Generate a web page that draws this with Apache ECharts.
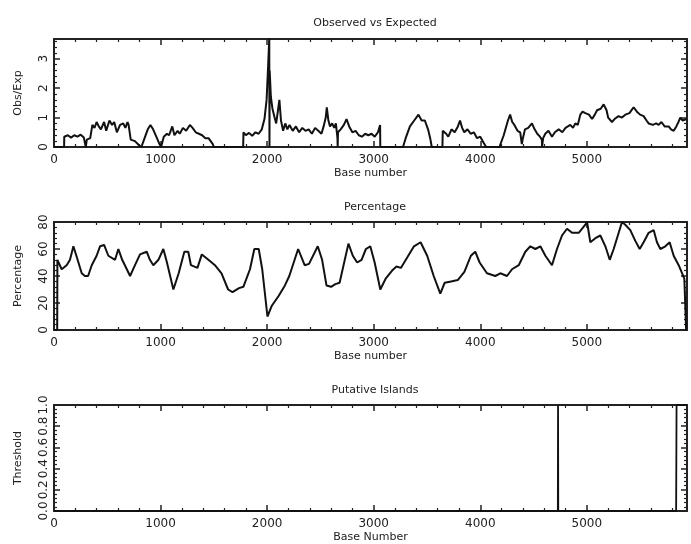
<!DOCTYPE html>
<html>
<head>
<meta charset="utf-8">
<script src="https://cdn.jsdelivr.net/npm/echarts@6/dist/echarts.min.js"></script>
<style>html,body{margin:0;padding:0;background:#fff;}#chart{width:691px;height:544px;}</style>
</head>
<body>
<div id="chart"></div>
<script>
// ---------- DATA ----------
const titles = ["Observed vs Expected", "Percentage", "Putative Islands"];
const xNames = ["Base number", "Base number", "Base Number"];
const yNames = ["Obs/Exp", "Percentage", "Threshold"];
const xTickLabels = ["0", "1000", "2000", "3000", "4000", "5000"];

const obsExpBase = [0,95,96,130,160,190,220,250,280,295,298,305,308,340,360,380,400,420,440,470,490,520,545,565,590,620,650,670,690,700,720,760,800,820,850,880,905,930,960,990,1005,1030,1060,1080,1110,1130,1160,1180,1210,1240,1275,1300,1330,1360,1390,1420,1450,1490,1500,1775,1778,1800,1830,1860,1890,1920,1950,1975,1995,2010,2020,2022,2024,2035,2050,2070,2085,2100,2115,2130,2150,2170,2190,2210,2240,2270,2300,2330,2360,2390,2420,2450,2480,2510,2530,2550,2560,2575,2590,2610,2630,2645,2660,2662,2665,2690,2720,2745,2770,2800,2830,2860,2890,2920,2950,2980,3010,3040,3060,3062,3275,3300,3340,3380,3420,3450,3480,3510,3530,3545,3645,3648,3680,3700,3730,3760,3790,3810,3830,3850,3880,3910,3940,3970,4000,4030,4055,4180,4220,4260,4280,4300,4320,4350,4375,4390,4400,4420,4450,4485,4510,4535,4560,4578,4580,4590,4610,4640,4673,4700,4736,4770,4800,4845,4870,4892,4915,4939,4960,4986,5020,5049,5075,5096,5130,5158,5185,5200,5236,5260,5298,5330,5361,5400,5439,5470,5500,5533,5560,5580,5620,5650,5674,5700,5730,5768,5790,5815,5840,5860,5877,5900,5935];
const obsExpValues = [0,0,0.35,0.4,0.32,0.4,0.35,0.42,0.32,0.3,0,0,0.25,0.3,0.75,0.65,0.85,0.7,0.6,0.85,0.55,0.9,0.75,0.85,0.5,0.75,0.8,0.65,0.85,0.75,0.25,0.2,0.05,0,0.3,0.6,0.75,0.6,0.35,0.1,0,0.35,0.45,0.4,0.7,0.4,0.55,0.45,0.65,0.55,0.75,0.65,0.5,0.45,0.4,0.3,0.3,0.1,0,0,0.5,0.4,0.48,0.38,0.5,0.45,0.6,0.95,1.6,2.8,3.7,0,2.6,1.7,1.3,1.0,0.8,1.2,1.6,0.9,0.55,0.8,0.6,0.75,0.55,0.7,0.5,0.65,0.55,0.6,0.45,0.65,0.55,0.45,0.7,1.0,1.35,0.9,0.7,0.8,0.65,0.8,0.3,0,0.5,0.6,0.75,0.95,0.7,0.5,0.55,0.4,0.35,0.45,0.4,0.45,0.35,0.5,0.75,0,0,0.3,0.7,0.9,1.1,0.9,0.9,0.6,0.3,0,0,0.55,0.45,0.35,0.6,0.5,0.7,0.9,0.65,0.5,0.6,0.45,0.5,0.3,0.35,0.15,0,0,0.4,0.9,1.1,0.85,0.75,0.55,0.5,0.1,0.3,0.6,0.65,0.8,0.6,0.45,0.35,0.25,0,0.3,0.45,0.55,0.35,0.5,0.6,0.5,0.65,0.75,0.65,0.8,0.75,1.1,1.2,1.15,1.1,0.95,1.1,1.25,1.3,1.45,1.25,1.0,0.85,0.95,1.05,1.0,1.1,1.15,1.35,1.2,1.1,1.05,0.9,0.8,0.75,0.8,0.75,0.85,0.7,0.7,0.6,0.55,0.7,0.85,1.0,0.9,0.95];

const pctBase = [0,30,32,72,119,150,182,210,260,290,320,354,400,432,470,510,573,604,640,714,760,807,870,900,932,980,1026,1060,1120,1170,1223,1260,1285,1346,1387,1449,1510,1572,1634,1675,1736,1777,1839,1880,1921,1954,2003,2044,2106,2167,2208,2291,2352,2393,2475,2516,2557,2600,2640,2680,2763,2804,2845,2886,2927,2968,3009,3062,3112,3173,3214,3255,3317,3378,3440,3502,3563,3625,3666,3727,3789,3851,3912,3953,3994,4063,4141,4188,4251,4298,4361,4423,4470,4517,4564,4611,4673,4720,4767,4814,4861,4924,4986,5002,5033,5080,5127,5174,5215,5252,5299,5330,5361,5408,5455,5496,5533,5580,5627,5658,5690,5737,5777,5815,5862,5915,5932,5940];
const pctValues = [0,0,52,45,48,52,62,55,42,40,40,48,55,62,63,55,52,60,52,40,48,56,58,52,48,52,60,50,30,42,58,58,48,46,56,52,48,42,30,28,31,32,45,60,60,45,10,18,25,33,40,60,48,49,62,52,33,32,34,35,64,55,50,52,60,62,50,30,38,44,47,46,54,62,65,55,40,27,35,36,37,43,55,58,50,42,40,42,40,45,48,58,62,60,62,55,48,60,70,75,72,72,78,80,65,68,70,62,52,60,72,80,78,74,66,60,65,72,74,65,60,62,65,55,48,38,0,0];

const islandBase = [0,4728,4730,4732,5838,5840,5842,5940];
const islandValues = [0,0,1,0,0,0.5,1,1];

const xMax = 5940;
const yMaxes = [3.67, 80, 1];
const yIntervals = [1, 20, 0.2];

// ---------- CHART ----------
const pair = (xs, ys) => xs.map((x, i) => [x, ys[i]]);
const font = 'DejaVu Sans';
const ink = '#222';
const gridTops = [39, 222, 405];
const titleTops = [13, 197, 380];

const grids = gridTops.map(t => ({left: 54, top: t, width: 633, height: 108}));
const xAxes = [], yAxes = [];
for (let g = 0; g < 3; g++) {
  const common = {
    type: 'value', gridIndex: g, min: 0, max: xMax, interval: 1000,
    splitLine: {show: false},
    axisLine: {show: true, onZero: false, lineStyle: {color: ink, width: 2}},
    axisTick: {show: true, inside: true, length: 6, lineStyle: {color: ink, width: 1.5}},
    minorTick: {show: true, splitNumber: 5, length: 3, lineStyle: {color: ink, width: 1.2}},
  };
  xAxes.push(Object.assign({}, common, {
    position: 'bottom',
    name: xNames[g], nameLocation: 'middle', nameGap: 21,
    nameTextStyle: {fontFamily: font, fontSize: 11, color: ink},
    axisLabel: {show: true, showMaxLabel: false, margin: 7, fontFamily: font, fontSize: 12, color: ink,
      formatter: v => xTickLabels[Math.round(v / 1000)] || ''}
  }));
  xAxes.push(Object.assign({}, common, {position: 'top', axisLabel: {show: false}}));
  const yc = {
    type: 'value', gridIndex: g, min: 0, max: yMaxes[g], interval: yIntervals[g],
    splitLine: {show: false},
    axisLine: {show: true, onZero: false, lineStyle: {color: ink, width: 2}},
    axisTick: {show: true, inside: true, length: 6, lineStyle: {color: ink, width: 1.5}},
    minorTick: {show: true, splitNumber: 5, length: 3, lineStyle: {color: ink, width: 1.2}},
  };
  yAxes.push(Object.assign({}, yc, {
    position: 'left',
    name: yNames[g], nameLocation: 'middle', nameGap: 30,
    nameTextStyle: {fontFamily: font, fontSize: 11, color: ink},
    axisLabel: {show: true, rotate: 90, margin: 4, showMaxLabel: g !== 0, fontFamily: font, fontSize: 12, color: ink,
      formatter: v => g === 2 ? v.toFixed(1) : String(v)}
  }));
  yAxes.push(Object.assign({}, yc, {position: 'right', axisLabel: {show: false}}));
}

const mkSeries = (g, data, w) => ({
  type: 'line', xAxisIndex: g * 2, yAxisIndex: g * 2, data: data,
  showSymbol: false, symbol: 'none', animation: false, clip: true,
  lineStyle: {color: '#111', width: w}
});

const option = {
  backgroundColor: '#fff',
  animation: false,
  title: titles.map((t, i) => ({
    text: t, left: 370, top: titleTops[i], textAlign: 'center',
    textStyle: {fontFamily: font, fontSize: 11, fontWeight: 'normal', color: ink}
  })),
  grid: grids,
  xAxis: xAxes,
  yAxis: yAxes,
  series: [
    mkSeries(0, pair(obsExpBase, obsExpValues), 2),
    mkSeries(1, pair(pctBase, pctValues), 2),
    mkSeries(2, pair(islandBase, islandValues), 1.8)
  ]
};
const chart = echarts.init(document.getElementById('chart'), null, {renderer: 'canvas'});
chart.setOption(option);
</script>
</body>
</html>
